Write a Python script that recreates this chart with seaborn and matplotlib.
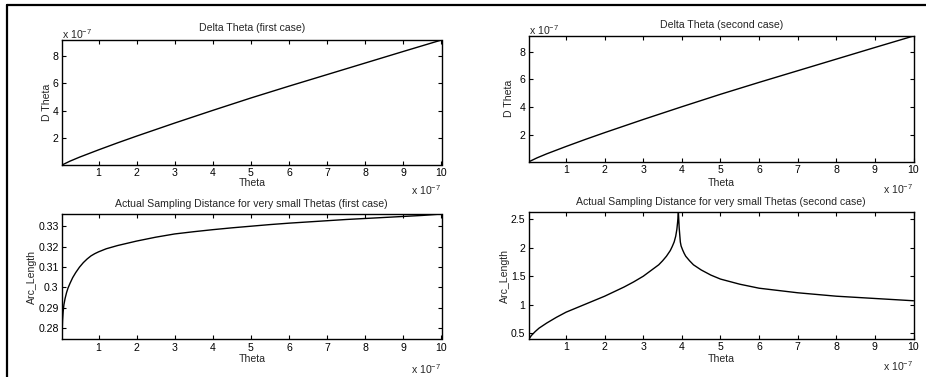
import numpy as np
import pandas as pd
import matplotlib
matplotlib.use("Agg")
import matplotlib.pyplot as plt
from matplotlib.lines import Line2D
import seaborn as sns

# ---- data (theta in units of 1e-7) ----
theta_top = [0.04, 0.25, 0.5, 1, 1.5, 2, 3, 4, 5, 6, 7, 8, 9, 10]
dtheta_first = [0.05, 0.33, 0.62, 1.15, 1.66, 2.15, 3.1, 4.02, 4.92, 5.78, 6.62, 7.46, 8.3, 9.13]
dtheta_second = [0.05, 0.33, 0.62, 1.15, 1.66, 2.15, 3.1, 4.02, 4.92, 5.78, 6.62, 7.46, 8.3, 9.13]

theta_arc1 = [0.04, 0.045, 0.055, 0.07, 0.09, 0.12, 0.16, 0.2, 0.25, 0.32, 0.4, 0.5, 0.6,
              0.7, 0.8, 0.9, 1.0, 1.2, 1.5, 2, 2.5, 3, 3.5, 4, 4.5, 5, 5.5, 6, 6.5, 7, 7.5,
              8, 8.5, 9, 9.5, 10]
arc_first = [0.2745, 0.279, 0.284, 0.288, 0.2915, 0.2945, 0.2975, 0.2998, 0.302, 0.3048,
             0.3073, 0.31, 0.3122, 0.314, 0.3155, 0.3166, 0.3175, 0.319, 0.3206, 0.3228,
             0.3247, 0.3263, 0.3274, 0.3284, 0.3293, 0.3301, 0.3309, 0.3316, 0.3322, 0.3328,
             0.3334, 0.3339, 0.3344, 0.3349, 0.3354, 0.3361]

theta_arc2 = [0.04, 0.1, 0.2, 0.3, 0.5, 0.75, 1, 1.25, 1.5, 1.75, 2, 2.25, 2.5, 2.75, 3,
              3.2, 3.4, 3.5, 3.6, 3.7, 3.75, 3.8, 3.84, 3.87, 3.89, 3.91, 3.93, 3.96, 3.98,
              4.02, 4.06, 4.1, 4.2, 4.3, 4.5, 4.75, 5, 5.5, 6, 6.5, 7, 7.5, 8, 8.5, 9, 9.5, 10]
arc_second = [0.40, 0.46, 0.53, 0.59, 0.68, 0.78, 0.87, 0.94, 1.01, 1.08, 1.15, 1.23, 1.31,
              1.40, 1.50, 1.60, 1.70, 1.77, 1.85, 1.95, 2.02, 2.10, 2.20, 2.32, 2.45, 2.62,
              2.35, 2.10, 2.03, 1.96, 1.90, 1.85, 1.77, 1.70, 1.61, 1.52, 1.45, 1.36, 1.29,
              1.25, 1.21, 1.18, 1.15, 1.13, 1.11, 1.09, 1.07]

x_ticks = [1, 2, 3, 4, 5, 6, 7, 8, 9, 10]

sns.set_theme(style="white")
plt.rcParams["font.family"] = ["Liberation Sans", "DejaVu Sans"]
plt.rcParams["mathtext.fontset"] = "custom"
plt.rcParams["mathtext.rm"] = "Liberation Sans"

W, H = 926, 377
fig = plt.figure(figsize=(W / 100, H / 100), dpi=100)
fig.patch.set_facecolor("white")


def px_axes(l, t, r, b):
    return fig.add_axes([l / W, 1 - b / H, (r - l) / W, (b - t) / H])


FS = 7.6
panels = [
    dict(box=(62, 40, 441.5, 165), x=theta_top, y=dtheta_first,
         title="Delta Theta (first case)", ylabel="D Theta", yticks=[2, 4, 6, 8],
         ylab_x=47, xlab_y=183, off_y=190, yoff=True, title_y=28),
    dict(box=(529, 36, 913.5, 161.7), x=theta_top, y=dtheta_second,
         title="Delta Theta (second case)", ylabel="D Theta", yticks=[2, 4, 6, 8],
         ylab_x=509, xlab_y=183.3, off_y=189, yoff=True, title_y=25),
    dict(box=(62, 214, 441.5, 339.3), x=theta_arc1, y=arc_first,
         title="Actual Sampling Distance for very small Thetas (first case)", ylabel="Arc_Length",
         yticks=[0.28, 0.29, 0.30, 0.31, 0.32, 0.33],
         ylab_x=32, xlab_y=359.3, off_y=369, yoff=False, title_y=204),
    dict(box=(529, 212.3, 913.5, 339), x=theta_arc2, y=arc_second,
         title="Actual Sampling Distance for very small Thetas (second case)", ylabel="Arc_Length",
         yticks=[0.5, 1, 1.5, 2, 2.5],
         ylab_x=505, xlab_y=359.3, off_y=366, yoff=False, title_y=201.7),
]

for p in panels:
    l, t, r, b = p["box"]
    ax = px_axes(l, t, r, b)
    df = pd.DataFrame({"theta": p["x"], "val": p["y"]})
    sns.lineplot(data=df, x="theta", y="val", ax=ax, color="black", linewidth=1.0)
    ax.set_xlim(min(p["x"]), max(p["x"]))
    ax.set_ylim(min(p["y"]), max(p["y"]))
    ax.set_xticks(x_ticks)
    ax.set_xticklabels([str(v) for v in x_ticks])
    ax.set_yticks(p["yticks"])
    ax.set_yticklabels(["{:g}".format(v) for v in p["yticks"]])
    ax.tick_params(direction="in", length=3, width=0.8, top=True, right=True,
                   bottom=True, left=True, labelsize=FS, pad=2.5, colors="black")
    for s in ax.spines.values():
        s.set_visible(True)
        s.set_color("black")
        s.set_linewidth(1.0)
    ax.set_facecolor("white")
    ax.grid(False)
    wpx, hpx = r - l, b - t
    ax.set_xlabel("Theta", fontsize=FS, va="center")
    ax.xaxis.set_label_coords(0.5, (b - p["xlab_y"]) / hpx)
    ax.set_ylabel(p["ylabel"], fontsize=FS, va="center")
    ax.yaxis.set_label_coords((p["ylab_x"] - l) / wpx, 0.5)
    ax.text(0.5, (b - p["title_y"]) / hpx, p["title"], transform=ax.transAxes,
            ha="center", va="center", fontsize=FS)
    ax.text(1.0, (b - p["off_y"]) / hpx, "x 10$^{-7}$", transform=ax.transAxes,
            ha="right", va="center", fontsize=FS)
    if p["yoff"]:
        ax.text(0.0, (b - (t - 6)) / hpx, "x 10$^{-7}$", transform=ax.transAxes,
                ha="left", va="center", fontsize=FS)

# outer frame (top and left edges)
fig.add_artist(Line2D([7 / W, 7 / W], [0, 1 - 5 / H], transform=fig.transFigure,
                      color="black", linewidth=1.6))
fig.add_artist(Line2D([7 / W, 1], [1 - 5 / H, 1 - 5 / H], transform=fig.transFigure,
                      color="black", linewidth=1.6))

fig.savefig("out.png", dpi=100, facecolor="white")
